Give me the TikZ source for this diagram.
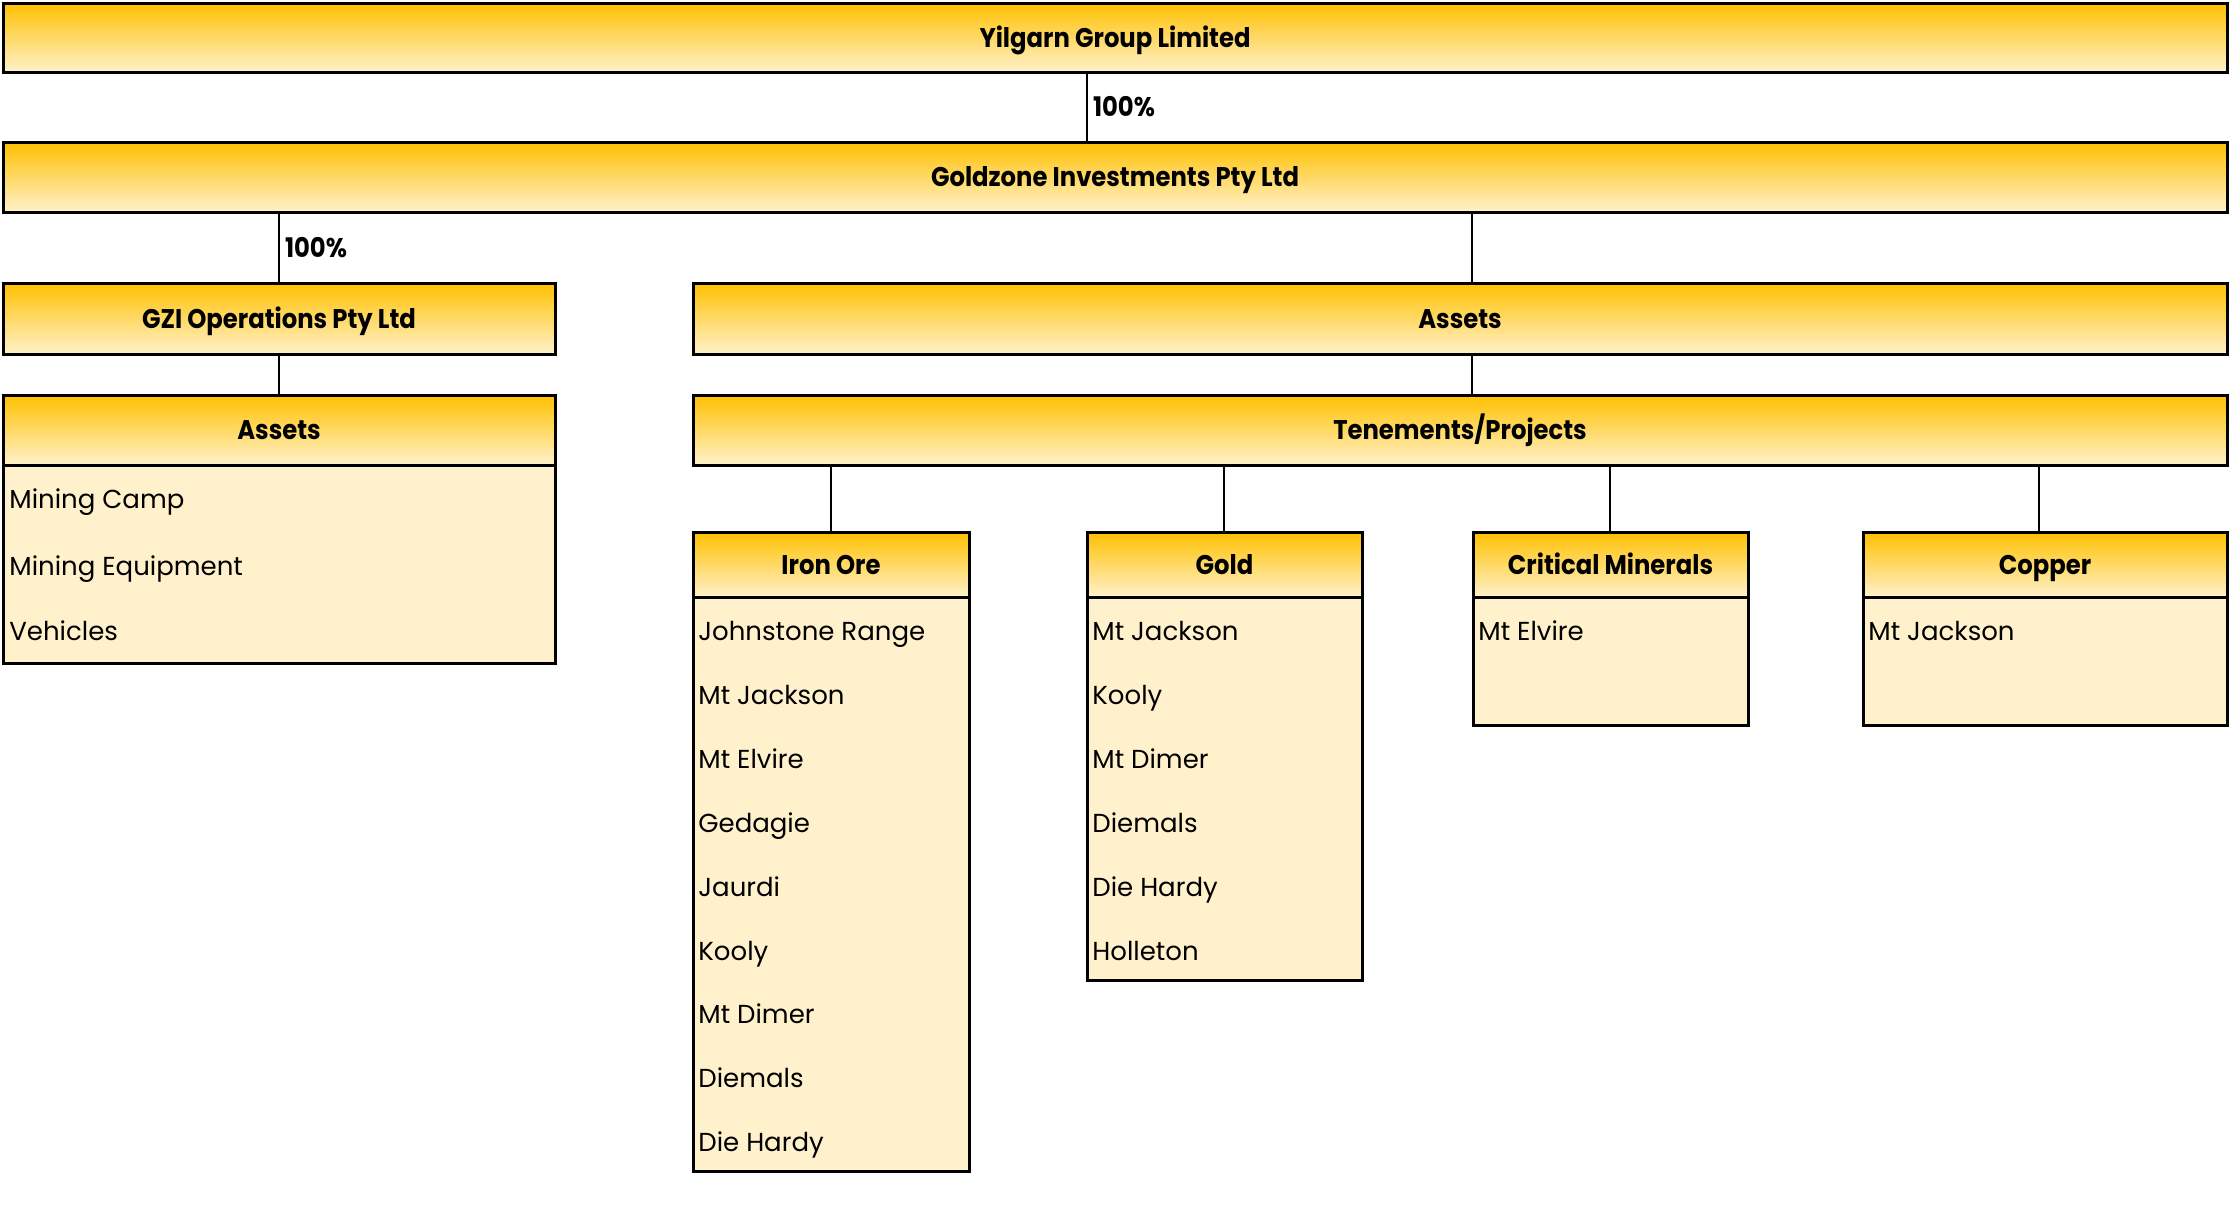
\documentclass[tikz,border=0pt]{standalone}
\usepackage{fontspec}
\setmainfont{Poppins}[BoldFeatures={FakeStretch=0.9}]
\usetikzlibrary{calc}
\definecolor{hdtop}{HTML}{FFC000}
\definecolor{hdbot}{HTML}{FFF2CC}
\definecolor{bodyfill}{HTML}{FFF1CC}
\tikzset{
  hdr/.style={draw=black, line width=1.5pt, top color=hdtop, bottom color=hdbot,
    inner sep=0pt, outer sep=0pt, text height=9.5pt, text depth=0pt,
    font=\bfseries\fontsize{13.5}{16}\selectfont},
  listbody/.style={draw=black, line width=1.5pt, fill=bodyfill, inner sep=0pt, outer sep=0pt},
  item/.style={anchor=base west, inner sep=0pt, font=\fontsize{13}{16}\selectfont},
  conn/.style={draw=black, line width=1pt},
  pct/.style={anchor=west, inner sep=2.5pt, font=\bfseries\fontsize{13.5}{16}\selectfont}
}
\begin{document}
\begin{tikzpicture}[x=0.5pt,y=-0.5pt]
\useasboundingbox (0,0) rectangle (2230,1206);
% coordinates for vertical connectors
\coordinate (k1) at (1087,0);
\coordinate (k2) at (279,0);
\coordinate (k3) at (1472,0);
\coordinate (k4) at (831,0);
\coordinate (k5) at (1224,0);
\coordinate (k6) at (1610,0);
\coordinate (k7) at (2039,0);

% top level boxes
\node[hdr, minimum width=1112pt, minimum height=34.5pt] (yil) at (1115,37.5) {Yilgarn Group Limited};
\node[hdr, minimum width=1112pt, minimum height=35pt] (gz) at (1115,177) {Goldzone Investments Pty Ltd};
\node[hdr, minimum width=276pt, minimum height=35.5pt] (gzi) at (279,318.5) {GZI Operations Pty Ltd};
\node[hdr, minimum width=767pt, minimum height=35.5pt] (asr) at (1460,318.5) {Assets};

% left assets list
\node[hdr, minimum width=276pt, minimum height=35pt] (asl) at (279,430) {Assets};
\node[listbody, minimum width=276pt, minimum height=99pt] (aslb) at (279,564) {};
\node[item] (al1) at (9,508) {Mining Camp};
\node[item] (al2) at (9,575) {Mining Equipment};
\node[item] (al3) at (9,640) {Vehicles};

% tenements
\node[hdr, minimum width=767pt, minimum height=35pt] (ten) at (1460,430) {Tenements/Projects};

% Iron ore
\node[hdr, minimum width=138pt, minimum height=32.5pt] (iron) at (831,564.5) {Iron Ore};
\node[listbody, minimum width=138pt, minimum height=287pt] (ironb) at (831,884) {};
\node[item] (i1) at (698,640) {Johnstone Range};
\node[item] (i2) at (698,704) {Mt Jackson};
\node[item] (i3) at (698,768) {Mt Elvire};
\node[item] (i4) at (698,832) {Gedagie};
\node[item] (i5) at (698,896) {Jaurdi};
\node[item] (i6) at (698,960) {Kooly};
\node[item] (i7) at (698,1023) {Mt Dimer};
\node[item] (i8) at (698,1087) {Diemals};
\node[item] (i9) at (698,1151) {Die Hardy};

% Gold
\node[hdr, minimum width=137.5pt, minimum height=32.5pt] (gold) at (1224.5,564.5) {Gold};
\node[listbody, minimum width=137.5pt, minimum height=191.5pt] (goldb) at (1224.5,788.5) {};
\node[item] (g1) at (1092,640) {Mt Jackson};
\node[item] (g2) at (1092,704) {Kooly};
\node[item] (g3) at (1092,768) {Mt Dimer};
\node[item] (g4) at (1092,832) {Diemals};
\node[item] (g5) at (1092,896) {Die Hardy};
\node[item] (g6) at (1092,960) {Holleton};

% Critical minerals
\node[hdr, minimum width=137.5pt, minimum height=32.5pt] (crit) at (1610.5,564.5) {Critical Minerals};
\node[listbody, minimum width=137.5pt, minimum height=64pt] (critb) at (1610.5,661) {};
\node[item] (c1) at (1478,640) {Mt Elvire};

% Copper
\node[hdr, minimum width=182pt, minimum height=32.5pt] (cu) at (2045,564.5) {Copper};
\node[listbody, minimum width=182pt, minimum height=64pt] (cub) at (2045,661) {};
\node[item] (u1) at (1868,640) {Mt Jackson};

% connectors
\draw[conn] (yil.south -| k1) -- (gz.north -| k1) node[pct, midway] {100\%};
\draw[conn] (gz.south -| k2) -- (gzi.north -| k2) node[pct, midway] {100\%};
\draw[conn] (gz.south -| k3) -- (asr.north -| k3);
\draw[conn] (gzi.south) -- (asl.north);
\draw[conn] (asr.south -| k3) -- (ten.north -| k3);
\draw[conn] (ten.south -| k4) -- (iron.north -| k4);
\draw[conn] (ten.south -| k5) -- (gold.north -| k5);
\draw[conn] (ten.south -| k6) -- (crit.north -| k6);
\draw[conn] (ten.south -| k7) -- (cu.north -| k7);
\end{tikzpicture}
\end{document}
